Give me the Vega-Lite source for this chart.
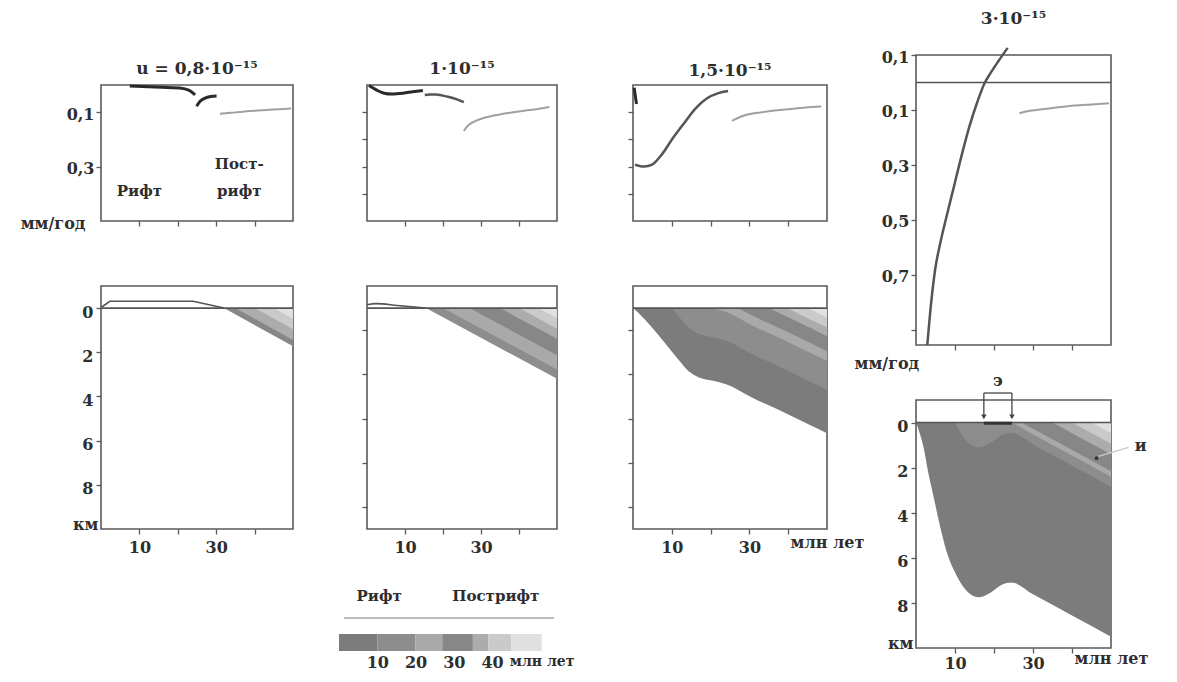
{
 "$schema": "https://vega.github.io/schema/vega-lite/v6.json",
 "background": "white",
 "padding": {"left": 19, "top": 9, "right": 5, "bottom": 2},
 "datasets": {
  "lines": [
   {"p":"c1","s":"a","ph":"rift","x":7.5,"v":0.004},{"p":"c1","s":"a","ph":"rift","x":14,"v":0.007},{"p":"c1","s":"a","ph":"rift","x":20.5,"v":0.011},{"p":"c1","s":"a","ph":"rift","x":23,"v":0.02},{"p":"c1","s":"a","ph":"rift","x":24.5,"v":0.036},
   {"p":"c1","s":"b","ph":"rift","x":24.9,"v":0.078},{"p":"c1","s":"b","ph":"rift","x":25.8,"v":0.06},{"p":"c1","s":"b","ph":"rift","x":27.1,"v":0.048},{"p":"c1","s":"b","ph":"rift","x":28.6,"v":0.042},{"p":"c1","s":"b","ph":"rift","x":30.1,"v":0.04},
   {"p":"c1","s":"c","ph":"post","x":31,"v":0.106},{"p":"c1","s":"c","ph":"post","x":34,"v":0.102},{"p":"c1","s":"c","ph":"post","x":37,"v":0.098},{"p":"c1","s":"c","ph":"post","x":40,"v":0.095},{"p":"c1","s":"c","ph":"post","x":43,"v":0.092},{"p":"c1","s":"c","ph":"post","x":46.5,"v":0.089},{"p":"c1","s":"c","ph":"post","x":49.5,"v":0.086},
   {"p":"c2","s":"a","ph":"rift","x":0.5,"v":0.002},{"p":"c2","s":"a","ph":"rift","x":1.5,"v":0.01},{"p":"c2","s":"a","ph":"rift","x":3,"v":0.022},{"p":"c2","s":"a","ph":"rift","x":4.5,"v":0.03},{"p":"c2","s":"a","ph":"rift","x":6.5,"v":0.033},{"p":"c2","s":"a","ph":"rift","x":9.5,"v":0.03},{"p":"c2","s":"a","ph":"rift","x":12,"v":0.025},{"p":"c2","s":"a","ph":"rift","x":14.7,"v":0.02},
   {"p":"c2","s":"b","ph":"trans","x":15.2,"v":0.037},{"p":"c2","s":"b","ph":"trans","x":16.5,"v":0.035},{"p":"c2","s":"b","ph":"trans","x":18.1,"v":0.035},{"p":"c2","s":"b","ph":"trans","x":20,"v":0.039},{"p":"c2","s":"b","ph":"trans","x":21.6,"v":0.044},{"p":"c2","s":"b","ph":"trans","x":23.5,"v":0.052},{"p":"c2","s":"b","ph":"trans","x":25.5,"v":0.063},
   {"p":"c2","s":"c","ph":"post","x":25.5,"v":0.169},{"p":"c2","s":"c","ph":"post","x":26.2,"v":0.155},{"p":"c2","s":"c","ph":"post","x":27,"v":0.144},{"p":"c2","s":"c","ph":"post","x":28.5,"v":0.133},{"p":"c2","s":"c","ph":"post","x":29.9,"v":0.125},{"p":"c2","s":"c","ph":"post","x":32.5,"v":0.115},{"p":"c2","s":"c","ph":"post","x":35.8,"v":0.106},{"p":"c2","s":"c","ph":"post","x":38.5,"v":0.1},{"p":"c2","s":"c","ph":"post","x":41.7,"v":0.094},{"p":"c2","s":"c","ph":"post","x":45,"v":0.088},{"p":"c2","s":"c","ph":"post","x":48,"v":0.081},
   {"p":"c3","s":"a","ph":"rift","x":0.3,"v":0.01},{"p":"c3","s":"a","ph":"rift","x":0.6,"v":0.04},{"p":"c3","s":"a","ph":"rift","x":0.9,"v":0.07},
   {"p":"c3","s":"b","ph":"trans","x":0.5,"v":0.293},{"p":"c3","s":"b","ph":"trans","x":2.9,"v":0.3},{"p":"c3","s":"b","ph":"trans","x":4.9,"v":0.293},{"p":"c3","s":"b","ph":"trans","x":7.4,"v":0.256},{"p":"c3","s":"b","ph":"trans","x":10.3,"v":0.195},{"p":"c3","s":"b","ph":"trans","x":13.2,"v":0.14},{"p":"c3","s":"b","ph":"trans","x":16.2,"v":0.085},{"p":"c3","s":"b","ph":"trans","x":19.1,"v":0.049},{"p":"c3","s":"b","ph":"trans","x":22,"v":0.03},{"p":"c3","s":"b","ph":"trans","x":24.5,"v":0.022},
   {"p":"c3","s":"c","ph":"post","x":25.5,"v":0.132},{"p":"c3","s":"c","ph":"post","x":27.9,"v":0.116},{"p":"c3","s":"c","ph":"post","x":30.5,"v":0.106},{"p":"c3","s":"c","ph":"post","x":32.8,"v":0.101},{"p":"c3","s":"c","ph":"post","x":36.5,"v":0.094},{"p":"c3","s":"c","ph":"post","x":40.7,"v":0.088},{"p":"c3","s":"c","ph":"post","x":44.5,"v":0.083},{"p":"c3","s":"c","ph":"post","x":48.5,"v":0.079},
   {"p":"c4","s":"a","ph":"trans","x":2.9,"v":0.956},{"p":"c4","s":"a","ph":"trans","x":3.9,"v":0.8},{"p":"c4","s":"a","ph":"trans","x":4.9,"v":0.682},{"p":"c4","s":"a","ph":"trans","x":6.3,"v":0.58},{"p":"c4","s":"a","ph":"trans","x":7.8,"v":0.49},{"p":"c4","s":"a","ph":"trans","x":9.8,"v":0.375},{"p":"c4","s":"a","ph":"trans","x":11.8,"v":0.26},{"p":"c4","s":"a","ph":"trans","x":13.7,"v":0.16},{"p":"c4","s":"a","ph":"trans","x":15.7,"v":0.072},{"p":"c4","s":"a","ph":"trans","x":17.6,"v":0.002},{"p":"c4","s":"a","ph":"trans","x":19.1,"v":-0.034},{"p":"c4","s":"a","ph":"trans","x":21.1,"v":-0.077},{"p":"c4","s":"a","ph":"trans","x":23.5,"v":-0.126},
   {"p":"c4","s":"c","ph":"post","x":26.5,"v":0.112},{"p":"c4","s":"c","ph":"post","x":28.5,"v":0.105},{"p":"c4","s":"c","ph":"post","x":30.9,"v":0.1},{"p":"c4","s":"c","ph":"post","x":35,"v":0.093},{"p":"c4","s":"c","ph":"post","x":40.7,"v":0.084},{"p":"c4","s":"c","ph":"post","x":45,"v":0.08},{"p":"c4","s":"c","ph":"post","x":49.5,"v":0.076}
  ],
  "layers": [
   {"p":"c1","b":"b27","x":32,"d":0},{"p":"c1","b":"b27","x":50,"d":1.73},
   {"p":"c1","b":"b35","x":35,"d":0},{"p":"c1","b":"b35","x":50,"d":1.44},
   {"p":"c1","b":"b40","x":40,"d":0},{"p":"c1","b":"b40","x":50,"d":0.96},
   {"p":"c1","b":"b45","x":45,"d":0},{"p":"c1","b":"b45","x":50,"d":0.48},
   {"p":"c2","b":"b10","x":15.5,"d":0},{"p":"c2","b":"b10","x":50,"d":3.2},
   {"p":"c2","b":"b20","x":20,"d":0},{"p":"c2","b":"b20","x":50,"d":2.78},
   {"p":"c2","b":"b27","x":27,"d":0},{"p":"c2","b":"b27","x":50,"d":2.13},
   {"p":"c2","b":"b35","x":35,"d":0},{"p":"c2","b":"b35","x":50,"d":1.39},
   {"p":"c2","b":"b40","x":40,"d":0},{"p":"c2","b":"b40","x":50,"d":0.93},
   {"p":"c2","b":"b45","x":45,"d":0},{"p":"c2","b":"b45","x":50,"d":0.46},
   {"p":"c3","b":"b00","x":0,"d":0},{"p":"c3","b":"b00","x":3,"d":0.5},{"p":"c3","b":"b00","x":6,"d":1.1},{"p":"c3","b":"b00","x":9,"d":1.75},{"p":"c3","b":"b00","x":12,"d":2.4},{"p":"c3","b":"b00","x":14,"d":2.8},{"p":"c3","b":"b00","x":16,"d":3.05},{"p":"c3","b":"b00","x":18,"d":3.2},{"p":"c3","b":"b00","x":21,"d":3.3},{"p":"c3","b":"b00","x":24,"d":3.45},{"p":"c3","b":"b00","x":30.9,"d":4.07},{"p":"c3","b":"b00","x":40.7,"d":4.87},{"p":"c3","b":"b00","x":50,"d":5.67},
   {"p":"c3","b":"b10","x":10,"d":0},{"p":"c3","b":"b10","x":12,"d":0.43},{"p":"c3","b":"b10","x":14,"d":0.83},{"p":"c3","b":"b10","x":16,"d":1.08},{"p":"c3","b":"b10","x":18,"d":1.23},{"p":"c3","b":"b10","x":21,"d":1.33},{"p":"c3","b":"b10","x":24,"d":1.48},{"p":"c3","b":"b10","x":30.9,"d":2.1},{"p":"c3","b":"b10","x":40.7,"d":2.9},{"p":"c3","b":"b10","x":50,"d":3.7},
   {"p":"c3","b":"b20","x":20,"d":0},{"p":"c3","b":"b20","x":21,"d":0.03},{"p":"c3","b":"b20","x":24,"d":0.18},{"p":"c3","b":"b20","x":30.9,"d":0.8},{"p":"c3","b":"b20","x":40.7,"d":1.6},{"p":"c3","b":"b20","x":50,"d":2.4},
   {"p":"c3","b":"b27","x":27,"d":0},{"p":"c3","b":"b27","x":30.9,"d":0.35},{"p":"c3","b":"b27","x":40.7,"d":1.15},{"p":"c3","b":"b27","x":50,"d":1.95},
   {"p":"c3","b":"b35","x":35,"d":0},{"p":"c3","b":"b35","x":40.7,"d":0.47},{"p":"c3","b":"b35","x":50,"d":1.27},
   {"p":"c3","b":"b40","x":40,"d":0},{"p":"c3","b":"b40","x":40.7,"d":0.07},{"p":"c3","b":"b40","x":50,"d":0.87},
   {"p":"c3","b":"b45","x":45,"d":0},{"p":"c3","b":"b45","x":50,"d":0.43},
   {"p":"c4","b":"b00","x":0,"d":0},{"p":"c4","b":"b00","x":1,"d":0.5},{"p":"c4","b":"b00","x":2,"d":1.15},{"p":"c4","b":"b00","x":2.9,"d":2.0},{"p":"c4","b":"b00","x":4.4,"d":3.2},{"p":"c4","b":"b00","x":5.9,"d":4.4},{"p":"c4","b":"b00","x":7.8,"d":5.7},{"p":"c4","b":"b00","x":10.3,"d":6.75},{"p":"c4","b":"b00","x":13.2,"d":7.5},{"p":"c4","b":"b00","x":16.2,"d":7.75},{"p":"c4","b":"b00","x":19.1,"d":7.55},{"p":"c4","b":"b00","x":22,"d":7.2},{"p":"c4","b":"b00","x":24.5,"d":7.1},{"p":"c4","b":"b00","x":30,"d":7.62},{"p":"c4","b":"b00","x":40,"d":8.56},{"p":"c4","b":"b00","x":50,"d":9.5},
   {"p":"c4","b":"b10","x":10,"d":0},{"p":"c4","b":"b10","x":10.3,"d":0.1},{"p":"c4","b":"b10","x":13.2,"d":0.85},{"p":"c4","b":"b10","x":16.2,"d":1.1},{"p":"c4","b":"b10","x":19.1,"d":0.9},{"p":"c4","b":"b10","x":22,"d":0.55},{"p":"c4","b":"b10","x":24.5,"d":0.45},{"p":"c4","b":"b10","x":30,"d":0.97},{"p":"c4","b":"b10","x":40,"d":1.91},{"p":"c4","b":"b10","x":50,"d":2.85},
   {"p":"c4","b":"b20","x":24.6,"d":0},{"p":"c4","b":"b20","x":30,"d":0.52},{"p":"c4","b":"b20","x":40,"d":1.46},{"p":"c4","b":"b20","x":50,"d":2.4},
   {"p":"c4","b":"b27","x":27,"d":0},{"p":"c4","b":"b27","x":30,"d":0.28},{"p":"c4","b":"b27","x":40,"d":1.22},{"p":"c4","b":"b27","x":50,"d":2.16},
   {"p":"c4","b":"b35","x":35,"d":0},{"p":"c4","b":"b35","x":40,"d":0.47},{"p":"c4","b":"b35","x":50,"d":1.41},
   {"p":"c4","b":"b40","x":40,"d":0},{"p":"c4","b":"b40","x":50,"d":0.94},
   {"p":"c4","b":"b45","x":45,"d":0},{"p":"c4","b":"b45","x":50,"d":0.47}
  ],
  "surf": [
   {"p":"c1","x":0.2,"d":-0.05},{"p":"c1","x":2.3,"d":-0.31},{"p":"c1","x":24,"d":-0.31},{"p":"c1","x":32,"d":0},
   {"p":"c2","x":0,"d":-0.15},{"p":"c2","x":2.3,"d":-0.2},{"p":"c2","x":8,"d":-0.12},{"p":"c2","x":15.5,"d":0}
  ],
  "notes": [
   {"p":"c1","x":10,"v":0.39,"t":"Рифт"},{"p":"c1","x":36,"v":0.29,"t":"Пост-"},{"p":"c1","x":36,"v":0.39,"t":"рифт"}
  ],
  "legend": [
   {"b":"b00","a0":0,"a1":10},{"b":"b10","a0":10,"a1":20},{"b":"b20","a0":20,"a1":27},{"b":"b27","a0":27,"a1":35},{"b":"b35","a0":35,"a1":39},{"b":"b40","a0":39,"a1":45},{"b":"b45","a0":45,"a1":53}
  ]
 },
 "config": {
  "view": {"stroke": "#5a5a5a", "strokeWidth": 1.6},
  "axis": {"domain": false, "grid": false, "tickColor": "#5a5a5a", "tickSize": 5, "tickWidth": 1.3, "labelFont": "DejaVu Serif", "labelFontWeight": "bold", "labelFontSize": 16, "labelColor": "#2e2e2e", "labelFlush": false, "labelOverlap": false, "labelBound": false},
  "title": {"font": "DejaVu Serif", "fontWeight": "bold", "fontSize": 17, "color": "#2e2e2e", "frame": "group", "anchor": "middle"},
  "text": {"font": "DejaVu Serif", "fontWeight": "bold", "fontSize": 16, "color": "#2e2e2e"}
 },
 "spacing": -12,
 "hconcat": [
  {
   "spacing": 1,
   "vconcat": [
    {"width": 1, "height": 1, "data": {"values": []}, "mark": "point", "view": {"stroke": "white"}},
    {
     "spacing": 52,
     "hconcat": [
      {
       "spacing": 42,
       "hconcat": [
        {
         "spacing": 65,
         "bounds": "flush",
         "vconcat": [
          {
           "width": 192, "height": 136,
           "title": {"text": "u = 0,8·10⁻¹⁵", "offset": 2},
           "layer": [
            {
             "data": {"name": "lines"},
             "transform": [{"filter": "datum.p=='c1'"}],
             "mark": {"type": "line", "interpolate": "monotone"},
             "encoding": {
              "x": {"field": "x", "type": "quantitative", "scale": {"domain": [0, 50], "nice": false, "zero": false}, "axis": {"values": [10, 20, 30, 40], "labels": false, "title": null}},
              "y": {"field": "v", "type": "quantitative", "scale": {"domain": [0, 0.5], "reverse": true, "nice": false, "zero": false}, "axis": {"values": [0.1, 0.2, 0.3, 0.4, 0.5], "labelExpr": "datum.value==0.1?'0,1':datum.value==0.3?'0,3':datum.value==0.5?'мм/год':''", "labelPadding": {"condition": {"test": "datum.value==0.5", "value": 16}, "value": 2}, "tickSize": {"condition": {"test": "datum.value==0.5", "value": 0}, "value": 5}, "labelOffset": 2, "title": null}},
              "detail": {"field": "s"},
              "stroke": {"field": "ph", "type": "nominal", "scale": {"domain": ["rift", "trans", "post"], "range": ["#2a2a2a", "#555555", "#a0a0a0"]}, "legend": null},
              "strokeWidth": {"field": "ph", "type": "ordinal", "scale": {"domain": ["rift", "trans", "post"], "range": [3, 2, 1.6]}, "legend": null}
             }
            },
            {
             "data": {"name": "notes"},
             "transform": [{"filter": "datum.p=='c1'"}],
             "mark": {"type": "text", "fontSize": 15},
             "encoding": {
              "x": {"field": "x", "type": "quantitative"},
              "y": {"field": "v", "type": "quantitative"},
              "text": {"field": "t"}
             }
            }
           ]
          },
          {
           "width": 192, "height": 243,
           "layer": [
            {
             "data": {"name": "layers"},
             "transform": [{"filter": "datum.p=='c1'"}],
             "mark": {"type": "area", "interpolate": "monotone"},
             "encoding": {
              "x": {"field": "x", "type": "quantitative", "scale": {"domain": [0, 50], "nice": false, "zero": false}, "axis": {"values": [10, 20, 30, 40], "labelExpr": "datum.value==10||datum.value==30?datum.label:''", "labelPadding": 5, "title": null}},
              "y": {"field": "d", "type": "quantitative", "stack": null, "scale": {"domain": [-1, 10], "reverse": true, "nice": false, "zero": false}, "axis": {"values": [0, 1, 2, 3, 4, 5, 6, 7, 8, 9, 10], "labelExpr": "datum.value==10?'км':(datum.value%2==0?datum.label:'')", "labelOffset": {"condition": {"test": "datum.value==10", "value": -5}, "value": 4}, "tickSize": {"condition": {"test": "datum.value==10", "value": 0}, "value": 5}, "labelPadding": 3, "title": null}},
              "y2": {"datum": 0},
              "fill": {"field": "b", "type": "nominal", "scale": {"domain": ["b00", "b10", "b20", "b27", "b35", "b40", "b45"], "range": ["#7c7c7c", "#8d8d8d", "#a9a9a9", "#878787", "#acacac", "#cacaca", "#e0e0e0"]}, "legend": null}
             }
            },
            {
             "data": {"name": "surf"},
             "transform": [{"filter": "datum.p=='c1'"}],
             "mark": {"type": "line", "color": "#555555", "strokeWidth": 1.6},
             "encoding": {
              "x": {"field": "x", "type": "quantitative"},
              "y": {"field": "d", "type": "quantitative"}
             }
            },
            {
             "data": {"values": [{}]},
             "mark": {"type": "rule", "color": "#555555", "strokeWidth": 1.6},
             "encoding": {"y": {"datum": 0}}
            }
           ]
          }
         ]
        },
        {
         "spacing": 65,
         "bounds": "flush",
         "vconcat": [
          {
           "width": 190, "height": 136,
           "title": {"text": "1·10⁻¹⁵", "offset": 2},
           "data": {"name": "lines"},
           "transform": [{"filter": "datum.p=='c2'"}],
           "mark": {"type": "line", "interpolate": "monotone"},
           "encoding": {
            "x": {"field": "x", "type": "quantitative", "scale": {"domain": [0, 50], "nice": false, "zero": false}, "axis": {"values": [10, 20, 30, 40], "labels": false, "title": null}},
            "y": {"field": "v", "type": "quantitative", "scale": {"domain": [0, 0.5], "reverse": true, "nice": false, "zero": false}, "axis": {"values": [0.1, 0.2, 0.3, 0.4], "labels": false, "title": null}},
            "detail": {"field": "s"},
            "stroke": {"field": "ph", "type": "nominal", "scale": {"domain": ["rift", "trans", "post"], "range": ["#2a2a2a", "#555555", "#a0a0a0"]}, "legend": null},
            "strokeWidth": {"field": "ph", "type": "ordinal", "scale": {"domain": ["rift", "trans", "post"], "range": [3, 2, 1.6]}, "legend": null}
           }
          },
          {
           "width": 190, "height": 243,
           "layer": [
            {
             "data": {"name": "layers"},
             "transform": [{"filter": "datum.p=='c2'"}],
             "mark": {"type": "area", "interpolate": "monotone"},
             "encoding": {
              "x": {"field": "x", "type": "quantitative", "scale": {"domain": [0, 50], "nice": false, "zero": false}, "axis": {"values": [10, 20, 30, 40], "labelExpr": "datum.value==10||datum.value==30?datum.label:''", "labelPadding": 5, "title": null}},
              "y": {"field": "d", "type": "quantitative", "stack": null, "scale": {"domain": [-1, 10], "reverse": true, "nice": false, "zero": false}, "axis": {"values": [1, 2, 3, 4, 5, 6, 7, 8, 9], "labels": false, "title": null}},
              "y2": {"datum": 0},
              "fill": {"field": "b", "type": "nominal", "scale": {"domain": ["b00", "b10", "b20", "b27", "b35", "b40", "b45"], "range": ["#7c7c7c", "#8d8d8d", "#a9a9a9", "#878787", "#acacac", "#cacaca", "#e0e0e0"]}, "legend": null}
             }
            },
            {
             "data": {"name": "surf"},
             "transform": [{"filter": "datum.p=='c2'"}],
             "mark": {"type": "line", "color": "#555555", "strokeWidth": 1.6, "interpolate": "monotone"},
             "encoding": {
              "x": {"field": "x", "type": "quantitative"},
              "y": {"field": "d", "type": "quantitative"}
             }
            },
            {
             "data": {"values": [{}]},
             "mark": {"type": "rule", "color": "#555555", "strokeWidth": 1.6},
             "encoding": {"y": {"datum": 0}}
            }
           ]
          },
          {
           "width": 190, "height": 57,
           "view": {"stroke": null},
           "layer": [
            {
             "data": {"name": "legend"},
             "mark": {"type": "rect"},
             "encoding": {
              "x": {"field": "a0", "type": "quantitative", "scale": {"domain": [7.32, 56.99], "nice": false, "zero": false}, "axis": {"values": [10, 20, 30, 40, 44.5], "labelExpr": "datum.value==44.5?'млн лет':datum.label", "labelAlign": {"condition": {"test": "datum.value==44.5", "value": "left"}, "value": "center"}, "labelFontSize": {"condition": {"test": "datum.value==44.5", "value": 14}, "value": 16}, "ticks": false, "labelPadding": 3, "title": null}},
              "x2": {"field": "a1"},
              "y": {"datum": 0, "type": "quantitative", "scale": {"domain": [0, 57], "nice": false, "zero": false}, "axis": null},
              "y2": {"datum": 17},
              "fill": {"field": "b", "type": "nominal", "scale": {"domain": ["b00", "b10", "b20", "b27", "b35", "b40", "b45"], "range": ["#7c7c7c", "#8d8d8d", "#a9a9a9", "#878787", "#acacac", "#cacaca", "#e0e0e0"]}, "legend": null}
             }
            },
            {
             "data": {"values": [{}]},
             "mark": {"type": "rule", "color": "#777777", "strokeWidth": 1.2},
             "encoding": {"x": {"datum": 1.3}, "x2": {"datum": 56.2}, "y": {"datum": 33}}
            },
            {
             "data": {"values": [{}]},
             "mark": {"type": "text", "fontSize": 15},
             "encoding": {"x": {"datum": 10.5}, "y": {"datum": 55}, "text": {"value": "Рифт"}}
            },
            {
             "data": {"values": [{}]},
             "mark": {"type": "text", "fontSize": 15},
             "encoding": {"x": {"datum": 41}, "y": {"datum": 55}, "text": {"value": "Пострифт"}}
            }
           ]
          }
         ]
        }
       ]
      },
      {
       "spacing": 65,
       "bounds": "flush",
       "vconcat": [
        {
         "width": 194, "height": 136,
         "title": {"text": "1,5·10⁻¹⁵", "offset": 2},
         "data": {"name": "lines"},
         "transform": [{"filter": "datum.p=='c3'"}],
         "mark": {"type": "line", "interpolate": "monotone"},
         "encoding": {
          "x": {"field": "x", "type": "quantitative", "scale": {"domain": [0, 50], "nice": false, "zero": false}, "axis": {"values": [10, 20, 30, 40], "labels": false, "title": null}},
          "y": {"field": "v", "type": "quantitative", "scale": {"domain": [0, 0.5], "reverse": true, "nice": false, "zero": false}, "axis": {"values": [0.1, 0.2, 0.3, 0.4], "labels": false, "title": null}},
          "detail": {"field": "s"},
          "stroke": {"field": "ph", "type": "nominal", "scale": {"domain": ["rift", "trans", "post"], "range": ["#2a2a2a", "#555555", "#a0a0a0"]}, "legend": null},
          "strokeWidth": {"field": "ph", "type": "ordinal", "scale": {"domain": ["rift", "trans", "post"], "range": [3, 2, 1.6]}, "legend": null}
         }
        },
        {
         "width": 194, "height": 243,
         "layer": [
          {
           "data": {"name": "layers"},
           "transform": [{"filter": "datum.p=='c3'"}],
           "mark": {"type": "area", "interpolate": "monotone"},
           "encoding": {
            "x": {"field": "x", "type": "quantitative", "scale": {"domain": [0, 50], "nice": false, "zero": false}, "axis": {"values": [10, 20, 30, 40, 50], "labelExpr": "datum.value==50?'млн лет':(datum.value==10||datum.value==30?datum.label:'')", "tickSize": {"condition": {"test": "datum.value==50", "value": 0}, "value": 5}, "labelPadding": 5, "title": null}},
            "y": {"field": "d", "type": "quantitative", "stack": null, "scale": {"domain": [-1, 10], "reverse": true, "nice": false, "zero": false}, "axis": {"values": [1, 2, 3, 4, 5, 6, 7, 8, 9], "labels": false, "title": null}},
            "y2": {"datum": 0},
            "fill": {"field": "b", "type": "nominal", "scale": {"domain": ["b00", "b10", "b20", "b27", "b35", "b40", "b45"], "range": ["#7c7c7c", "#8d8d8d", "#a9a9a9", "#878787", "#acacac", "#cacaca", "#e0e0e0"]}, "legend": null}
           }
          },
          {
           "data": {"values": [{}]},
           "mark": {"type": "rule", "color": "#555555", "strokeWidth": 1.6},
           "encoding": {"y": {"datum": 0}}
          }
         ]
        }
       ]
      }
     ]
    }
   ]
  },
  {
   "spacing": 55,
   "bounds": "flush",
   "vconcat": [
    {
     "width": 195, "height": 290,
     "title": {"text": "3·10⁻¹⁵", "offset": 15},
     "layer": [
      {
       "data": {"name": "lines"},
       "transform": [{"filter": "datum.p=='c4'"}],
       "mark": {"type": "line", "interpolate": "monotone"},
       "encoding": {
        "x": {"field": "x", "type": "quantitative", "scale": {"domain": [0, 50], "nice": false, "zero": false}, "axis": {"values": [10, 20, 30, 40], "labels": false, "title": "мм/год", "titleX": -62, "titleY": 18, "titleAlign": "left", "titleBaseline": "middle", "titleAnchor": "start", "titleFont": "DejaVu Serif", "titleFontWeight": "bold", "titleFontSize": 16, "titleColor": "#2e2e2e"}},
        "y": {"field": "v", "type": "quantitative", "scale": {"domain": [-0.1, 0.956], "reverse": true, "nice": false, "zero": false}, "axis": {"values": [-0.1, 0, 0.1, 0.2, 0.3, 0.4, 0.5, 0.6, 0.7, 0.8, 0.9], "labelExpr": "datum.value==-0.1||datum.value==0.1?'0,1':datum.value==0?'0':datum.value==0.3?'0,3':datum.value==0.5?'0,5':datum.value==0.7?'0,7':''", "labelOffset": 2, "labelPadding": 2, "title": null}},
        "detail": {"field": "s"},
        "stroke": {"field": "ph", "type": "nominal", "scale": {"domain": ["rift", "trans", "post"], "range": ["#2a2a2a", "#555555", "#a0a0a0"]}, "legend": null},
        "strokeWidth": {"field": "ph", "type": "ordinal", "scale": {"domain": ["rift", "trans", "post"], "range": [3, 2, 1.6]}, "legend": null}
       }
      },
      {
       "data": {"values": [{}]},
       "mark": {"type": "rule", "color": "#555555", "strokeWidth": 1.6},
       "encoding": {"y": {"datum": 0}}
      }
     ]
    },
    {
     "width": 195, "height": 248,
     "layer": [
      {
       "data": {"name": "layers"},
       "transform": [{"filter": "datum.p=='c4'"}],
       "mark": {"type": "area", "interpolate": "monotone"},
       "encoding": {
        "x": {"field": "x", "type": "quantitative", "scale": {"domain": [0, 50], "nice": false, "zero": false}, "axis": {"values": [10, 20, 30, 40, 50], "labelExpr": "datum.value==50?'млн лет':(datum.value==10||datum.value==30?datum.label:'')", "tickSize": {"condition": {"test": "datum.value==50", "value": 0}, "value": 5}, "labelPadding": 2, "title": null}},
        "y": {"field": "d", "type": "quantitative", "stack": null, "scale": {"domain": [-1, 10], "reverse": true, "nice": false, "zero": false}, "axis": {"values": [0, 1, 2, 3, 4, 5, 6, 7, 8, 9, 10], "labelExpr": "datum.value==10?'км':(datum.value%2==0?datum.label:'')", "labelOffset": {"condition": {"test": "datum.value==10", "value": -5}, "value": 4}, "tickSize": {"condition": {"test": "datum.value==10", "value": 0}, "value": 5}, "labelPadding": 3, "title": null}},
        "y2": {"datum": 0},
        "fill": {"field": "b", "type": "nominal", "scale": {"domain": ["b00", "b10", "b20", "b27", "b35", "b40", "b45"], "range": ["#7c7c7c", "#8d8d8d", "#a9a9a9", "#878787", "#acacac", "#cacaca", "#e0e0e0"]}, "legend": null}
       }
      },
      {
       "data": {"values": [{}]},
       "mark": {"type": "rule", "color": "#555555", "strokeWidth": 1.6},
       "encoding": {"y": {"datum": 0}}
      },
      {
       "data": {"values": [{}]},
       "mark": {"type": "rule", "color": "#444444", "strokeWidth": 1.3},
       "encoding": {"x": {"datum": 17.4}, "x2": {"datum": 24.6}, "y": {"datum": -1.31}}
      },
      {
       "data": {"values": [{}]},
       "mark": {"type": "rule", "color": "#444444", "strokeWidth": 1.3},
       "encoding": {"x": {"datum": 17.4}, "y": {"datum": -1.31}, "y2": {"datum": -0.25}}
      },
      {
       "data": {"values": [{}]},
       "mark": {"type": "rule", "color": "#444444", "strokeWidth": 1.3},
       "encoding": {"x": {"datum": 24.6}, "y": {"datum": -1.31}, "y2": {"datum": -0.25}}
      },
      {
       "data": {"values": [{}]},
       "mark": {"type": "point", "shape": "triangle-down", "filled": true, "size": 30, "color": "#444444", "opacity": 1},
       "encoding": {"x": {"datum": 17.4}, "y": {"datum": -0.25}}
      },
      {
       "data": {"values": [{}]},
       "mark": {"type": "point", "shape": "triangle-down", "filled": true, "size": 30, "color": "#444444", "opacity": 1},
       "encoding": {"x": {"datum": 24.6}, "y": {"datum": -0.25}}
      },
      {
       "data": {"values": [{}]},
       "mark": {"type": "rule", "color": "#333333", "strokeWidth": 3},
       "encoding": {"x": {"datum": 17.4}, "x2": {"datum": 24.6}, "y": {"datum": 0.03}}
      },
      {
       "data": {"values": [{}]},
       "mark": {"type": "text", "fontSize": 16},
       "encoding": {"x": {"datum": 21}, "y": {"datum": -1.85}, "text": {"value": "э"}}
      },
      {
       "data": {"values": [{}]},
       "mark": {"type": "rule", "color": "#c8c8c8", "strokeWidth": 1.5},
       "encoding": {"x": {"datum": 54.5}, "y": {"datum": 1.1}, "x2": {"datum": 46.8}, "y2": {"datum": 1.5}}
      },
      {
       "data": {"values": [{}]},
       "mark": {"type": "point", "filled": true, "size": 14, "color": "#333333", "opacity": 1},
       "encoding": {"x": {"datum": 46.3}, "y": {"datum": 1.58}}
      },
      {
       "data": {"values": [{}]},
       "mark": {"type": "text", "fontSize": 16},
       "encoding": {"x": {"datum": 57.6}, "y": {"datum": 1.05}, "text": {"value": "и"}}
      }
     ]
    }
   ]
  }
 ]
}
